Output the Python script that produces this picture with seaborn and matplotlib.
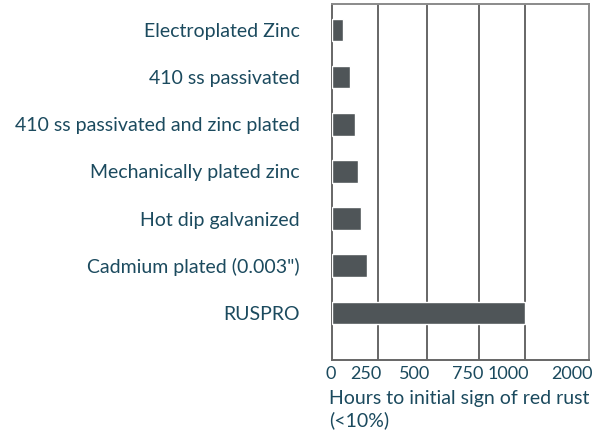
import numpy as np
import pandas as pd
import seaborn as sns
import matplotlib.pyplot as plt
import matplotlib.transforms as mtransforms

# coatings and hours to first red rust
coatings = ['Electroplated Zinc', '410 ss passivated', '410 ss passivated and zinc plated',
            'Mechanically plated zinc', 'Hot dip galvanized', 'Cadmium plated (0.003")', 'RUSPRO']
hours = [58, 96, 125, 142, 158, 192, 1000]

# the axis is not linear: tick values and their spacing on the original
tick_vals = [0, 250, 500, 750, 1000, 2000]
tick_pos = [0, 45.7, 94.5, 146.7, 192.5, 256.7]

df = pd.DataFrame({'coating': coatings, 'hours': hours})

sns.set_theme(style='white')
plt.rcParams['font.family'] = ['Lato', 'DejaVu Sans']
txt = '#1b4a5e'
bar_c = '#4f5558'
fs = 14

fig = plt.figure(figsize=(6.04, 4.30), dpi=100)
ax = fig.add_axes([0.5497, 0.1628, 0.4255, 0.828])

sns.barplot(data=df, x='hours', y='coating', orient='h', color=bar_c,
            width=0.48, saturation=1, ax=ax, zorder=3)

fwd = lambda x: np.interp(x, tick_vals, tick_pos)
inv = lambda y: np.interp(y, tick_pos, tick_vals)
ax.set_xscale('function', functions=(fwd, inv))
ax.set_xlim(0, 2000)
ax.set_ylim(7.0, -0.55)

for v in tick_vals[1:-1]:
    ax.axvline(v, color='#666666', lw=1.4, zorder=1)

for s in ax.spines.values():
    s.set_color('#8a8a8a')
    s.set_linewidth(1.4)
ax.spines['left'].set_color('#666666')
ax.spines['bottom'].set_color('#666666')

ax.set_xticks(tick_vals)
ax.set_xticklabels([str(v) for v in tick_vals], ha='right')
ax.tick_params(axis='x', length=0, pad=4, labelsize=13, labelcolor=txt)
ax.tick_params(axis='y', length=0, pad=23, labelsize=fs, labelcolor=txt)
shift = mtransforms.ScaledTranslation(4 / 100, 0, fig.dpi_scale_trans)
for lab in ax.get_xticklabels():
    lab.set_transform(lab.get_transform() + shift)

ax.set_ylabel('')
ax.set_xlabel('')
ax.text(-0.01, -0.085, 'Hours to initial sign of red rust\n(<10%)', transform=ax.transAxes,
        ha='left', va='top', fontsize=fs, color=txt, linespacing=1.3)

fig.savefig('out.png', dpi=100)
